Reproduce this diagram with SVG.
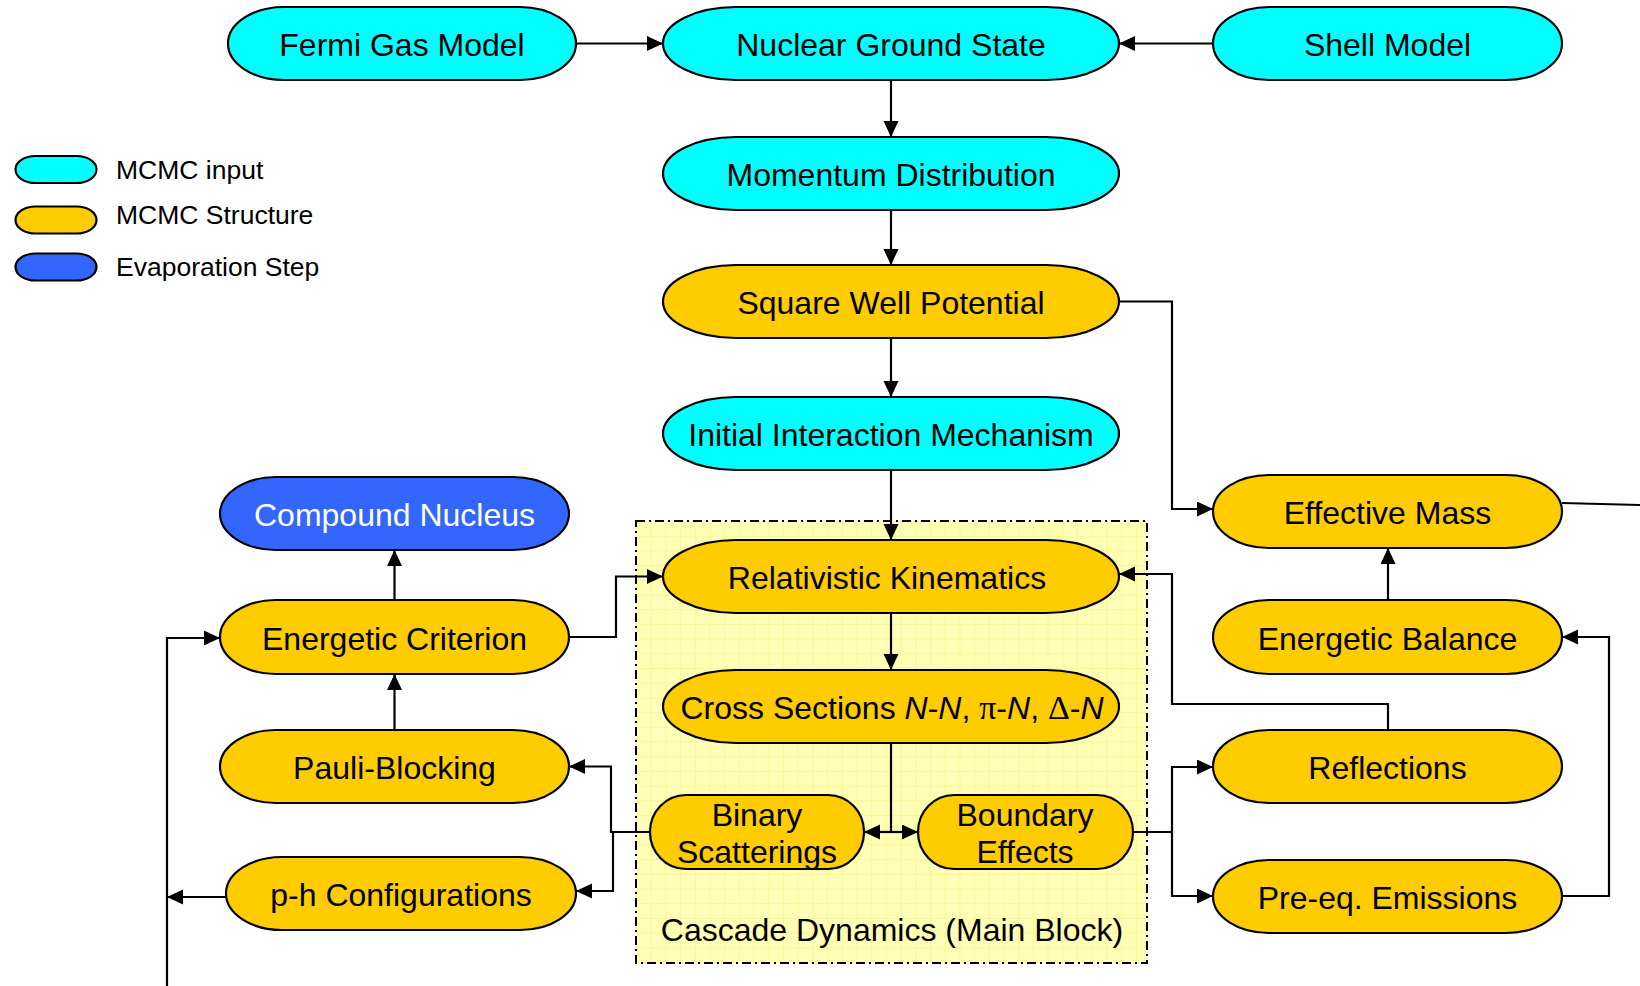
<svg xmlns="http://www.w3.org/2000/svg" width="1640" height="986" viewBox="0 0 1640 986">
  <style>
    .node { stroke: #000; stroke-width: 2.2; }
    .cyan { fill: #00FFFF; }
    .gold { fill: #FFCC00; }
    .blue { fill: #3366FF; }
    .lbl { font-family: "Liberation Sans", Arial, sans-serif; font-size: 32px; fill: #000; text-anchor: middle; }
    .leg { font-family: "Liberation Sans", Arial, sans-serif; font-size: 26.5px; fill: #000; }
    .wire { fill: none; stroke: #000; stroke-width: 2.2; }
    .arr { fill: none; stroke: #000; stroke-width: 2.2; marker-end: url(#tip); }
    .sym { font-family: "Liberation Serif", "Times New Roman", serif; font-size: 34px; }
  </style>
  <defs>
    <marker id="tip" markerUnits="userSpaceOnUse" markerWidth="17" markerHeight="16" refX="16" refY="7.5" orient="auto">
      <path d="M0,0 L16,7.5 L0,15 z" fill="#000"/>
    </marker>
    <pattern id="grid" width="14.7" height="14.7" patternUnits="userSpaceOnUse" x="636" y="521">
      <rect width="14.7" height="14.7" fill="#FFFFB6"/>
      <path d="M0,0 H14.7 M0,0 V14.7" stroke="#F6F07A" stroke-width="1" fill="none"/>
    </pattern>
  </defs>

  <rect width="1640" height="986" fill="#fff"/>

  <!-- main cascade block -->
  <g id="cascade-block">
    <rect x="636" y="521" width="511" height="442" fill="url(#grid)" stroke="#000" stroke-width="2" stroke-dasharray="9 4 2 4"/>
    <text class="lbl" x="892" y="941">Cascade Dynamics (Main Block)</text>
  </g>

  <!-- legend -->
  <g id="legend">
    <rect class="node cyan" x="15.5" y="156" width="81" height="27" rx="20" ry="13.5"/>
    <text class="leg" x="116" y="179">MCMC input</text>
    <rect class="node gold" x="15.5" y="206.5" width="81" height="27" rx="20" ry="13.5"/>
    <text class="leg" x="116" y="224">MCMC Structure</text>
    <rect class="node blue" x="15.5" y="253.5" width="81" height="27" rx="20" ry="13.5"/>
    <text class="leg" x="116" y="276">Evaporation Step</text>
  </g>

  <!-- connectors -->
  <g id="connectors">
    <path class="arr" d="M576,43.5 H663"/>
    <path class="arr" d="M1213,43.5 H1119"/>
    <path class="arr" d="M891,80 V137"/>
    <path class="arr" d="M891,210 V265"/>
    <path class="arr" d="M891,338 V397"/>
    <path class="arr" d="M891,470 V540"/>
    <path class="arr" d="M891,613 V670"/>
    <path class="wire" d="M891,743 V832"/>
    <path class="arr" d="M891,832 H864"/>
    <path class="arr" d="M891,832 H918"/>
    <path class="arr" d="M1119,301.5 H1172 V509 H1213"/>
    <path class="wire" d="M1562,503 L1640,505"/>
    <path class="arr" d="M1388,600 V548"/>
    <path class="arr" d="M1388,730 V704 H1172 V574 H1119"/>
    <path class="arr" d="M1562,896 H1609 V637 H1562"/>
    <path class="wire" d="M1133,832 H1172"/>
    <path class="arr" d="M1172,832 V767 H1213"/>
    <path class="arr" d="M1172,832 V896 H1213"/>
    <path class="arr" d="M650,832 H611 V766.5 H569"/>
    <path class="arr" d="M613,832 V891 H576"/>
    <path class="arr" d="M569,637 H616 V576.5 H663"/>
    <path class="arr" d="M394.5,730 V674"/>
    <path class="arr" d="M394.5,600 V550"/>
    <path class="arr" d="M226,897 H167"/>
    <path class="arr" d="M167,986 V638 H220"/>
  </g>

  <!-- nodes -->
  <g id="fermi-gas-model">
    <rect class="node cyan" x="228" y="7" width="348" height="73" rx="56" ry="36.5"/>
    <text class="lbl" x="402" y="56">Fermi Gas Model</text>
  </g>
  <g id="nuclear-ground-state">
    <rect class="node cyan" x="663" y="7" width="456" height="73" rx="73" ry="36.5"/>
    <text class="lbl" x="891" y="56">Nuclear Ground State</text>
  </g>
  <g id="shell-model">
    <rect class="node cyan" x="1213" y="7" width="349" height="73" rx="56" ry="36.5"/>
    <text class="lbl" x="1387.5" y="56">Shell Model</text>
  </g>
  <g id="momentum-distribution">
    <rect class="node cyan" x="663" y="137" width="456" height="73" rx="73" ry="36.5"/>
    <text class="lbl" x="891" y="186">Momentum Distribution</text>
  </g>
  <g id="square-well-potential">
    <rect class="node gold" x="663" y="265" width="456" height="73" rx="73" ry="36.5"/>
    <text class="lbl" x="891" y="314">Square Well Potential</text>
  </g>
  <g id="initial-interaction">
    <rect class="node cyan" x="663" y="397" width="456" height="73" rx="73" ry="36.5"/>
    <text class="lbl" x="891" y="446">Initial Interaction Mechanism</text>
  </g>
  <g id="relativistic-kinematics">
    <rect class="node gold" x="663" y="540" width="456" height="73" rx="73" ry="36.5"/>
    <text class="lbl" x="887" y="589">Relativistic Kinematics</text>
  </g>
  <g id="cross-sections">
    <rect class="node gold" x="663" y="670" width="456" height="73" rx="73" ry="36.5"/>
    <text class="lbl" x="892" y="719">Cross Sections <tspan font-style="italic">N</tspan>-<tspan font-style="italic">N</tspan>, <tspan class="sym">π</tspan>-<tspan font-style="italic">N</tspan>, <tspan class="sym">Δ</tspan>-<tspan font-style="italic">N</tspan></text>
  </g>
  <g id="binary-scatterings">
    <rect class="node gold" x="650" y="795" width="214" height="74" rx="36" ry="37"/>
    <text class="lbl" x="757" y="826">Binary</text>
    <text class="lbl" x="757" y="863">Scatterings</text>
  </g>
  <g id="boundary-effects">
    <rect class="node gold" x="918" y="795" width="215" height="74" rx="36" ry="37"/>
    <text class="lbl" x="1025" y="826">Boundary</text>
    <text class="lbl" x="1025" y="863">Effects</text>
  </g>
  <g id="compound-nucleus">
    <rect class="node blue" x="220" y="477" width="349" height="73" rx="56" ry="36.5"/>
    <text class="lbl" x="394.5" y="526" style="fill:#fff">Compound Nucleus</text>
  </g>
  <g id="energetic-criterion">
    <rect class="node gold" x="220" y="600" width="349" height="74" rx="56" ry="37"/>
    <text class="lbl" x="394.5" y="650">Energetic Criterion</text>
  </g>
  <g id="pauli-blocking">
    <rect class="node gold" x="220" y="730" width="349" height="73" rx="56" ry="36.5"/>
    <text class="lbl" x="394.5" y="779">Pauli-Blocking</text>
  </g>
  <g id="ph-configurations">
    <rect class="node gold" x="226" y="857" width="350" height="73" rx="56" ry="36.5"/>
    <text class="lbl" x="401" y="906">p-h Configurations</text>
  </g>
  <g id="effective-mass">
    <rect class="node gold" x="1213" y="475" width="349" height="73" rx="56" ry="36.5"/>
    <text class="lbl" x="1387.5" y="524">Effective Mass</text>
  </g>
  <g id="energetic-balance">
    <rect class="node gold" x="1213" y="600" width="349" height="74" rx="56" ry="37"/>
    <text class="lbl" x="1387.5" y="650">Energetic Balance</text>
  </g>
  <g id="reflections">
    <rect class="node gold" x="1213" y="730" width="349" height="73" rx="56" ry="36.5"/>
    <text class="lbl" x="1387.5" y="779">Reflections</text>
  </g>
  <g id="pre-eq-emissions">
    <rect class="node gold" x="1213" y="860" width="349" height="73" rx="56" ry="36.5"/>
    <text class="lbl" x="1387.5" y="909">Pre-eq. Emissions</text>
  </g>
</svg>
